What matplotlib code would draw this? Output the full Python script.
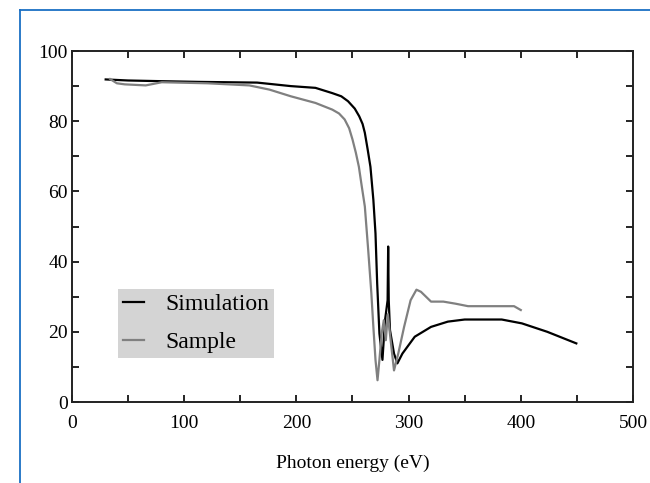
import matplotlib.pyplot as plt
from matplotlib.lines import Line2D
from matplotlib.ticker import MultipleLocator

plt.rcParams['font.family'] = ['Liberation Serif', 'DejaVu Serif']

# Simulation curve (black)
sim_energy = [30, 50, 80, 113, 165, 195, 217, 232, 240, 246, 252, 256, 259, 261, 263.5, 266,
              268.6, 270.5, 272, 274, 276.7, 279, 281.3, 281.8, 282.3, 283.4, 287, 290,
              294.5, 305.5, 320, 335, 350, 383, 401, 423.6, 449.5]
sim_trans = [91.9, 91.6, 91.4, 91.2, 91.0, 90.0, 89.5, 88.0, 87.1, 85.7, 83.6, 81.4, 79.2, 76.7, 72.0, 67.0,
             57.6, 48.0, 33.8, 19.5, 12.0, 23.3, 29.0, 44.3, 29.0, 20.5, 13.8, 11.0,
             13.8, 18.6, 21.4, 22.9, 23.5, 23.5, 22.4, 20.0, 16.7]

# Measured sample (gray)
smp_energy = [34, 40, 47, 65.7, 80, 121, 158, 176, 195, 217, 232, 238, 243, 247, 250, 253,
              255.7, 258, 261, 264, 266.8, 268.6, 270.5, 272.3, 274, 276, 277.9, 279.7,
              281.5, 284, 287, 290.8, 296, 301.8, 307, 311, 320, 331, 342, 353, 394, 400]
smp_trans = [92.0, 90.8, 90.5, 90.2, 91.1, 90.8, 90.2, 89.0, 87.1, 85.2, 83.3, 82.2, 80.5, 78.0, 74.8, 71.0,
             67.0, 62.0, 55.7, 43.3, 31.0, 21.4, 12.0, 6.2, 12.0, 19.5, 23.3, 17.6,
             25.0, 17.6, 9.0, 13.8, 21.4, 29.0, 32.0, 31.4, 28.6, 28.6, 28.0, 27.3, 27.3, 26.2]

fig = plt.figure(figsize=(6.5, 4.83), dpi=100)
ax = fig.add_axes([0.1108, 0.1677, 0.8630, 0.7267])

ax.plot(sim_energy, sim_trans, color='black', lw=1.6, label='Simulation')
ax.plot(smp_energy, smp_trans, color='#808080', lw=1.6, label='Sample')

ax.set_xlim(0, 500)
ax.set_ylim(0, 100)
ax.xaxis.set_major_locator(MultipleLocator(100))
ax.xaxis.set_minor_locator(MultipleLocator(50))
ax.yaxis.set_major_locator(MultipleLocator(20))
ax.yaxis.set_minor_locator(MultipleLocator(10))
ax.tick_params(which='both', direction='in', top=True, right=True, length=5, width=1.2,
               labelsize=14, pad=3)
ax.tick_params(axis='x', which='both', pad=9)
for s in ax.spines.values():
    s.set_linewidth(1.4)
    s.set_color('#222222')

ax.set_xlabel('Photon energy (eV)', fontsize=14, labelpad=17)

leg = ax.legend(loc='lower left', bbox_to_anchor=(0.082, 0.125), fontsize=17,
                frameon=True, fancybox=False, handlelength=0.9, handletextpad=0.9,
                borderpad=0.2, labelspacing=0.7, borderaxespad=0)
leg.get_frame().set_facecolor('#d4d4d4')
leg.get_frame().set_edgecolor('none')
leg.get_frame().set_alpha(1)

# blue frame around the panel (top and left edges)
blue = '#1a6fc4'
fig.add_artist(Line2D([20 / 650, 20 / 650], [0, 1 - 10 / 483], color=blue, lw=1.3,
                      transform=fig.transFigure))
fig.add_artist(Line2D([20 / 650, 1], [1 - 10 / 483, 1 - 10 / 483], color=blue, lw=1.3,
                      transform=fig.transFigure))

fig.savefig('out.png', dpi=100)
